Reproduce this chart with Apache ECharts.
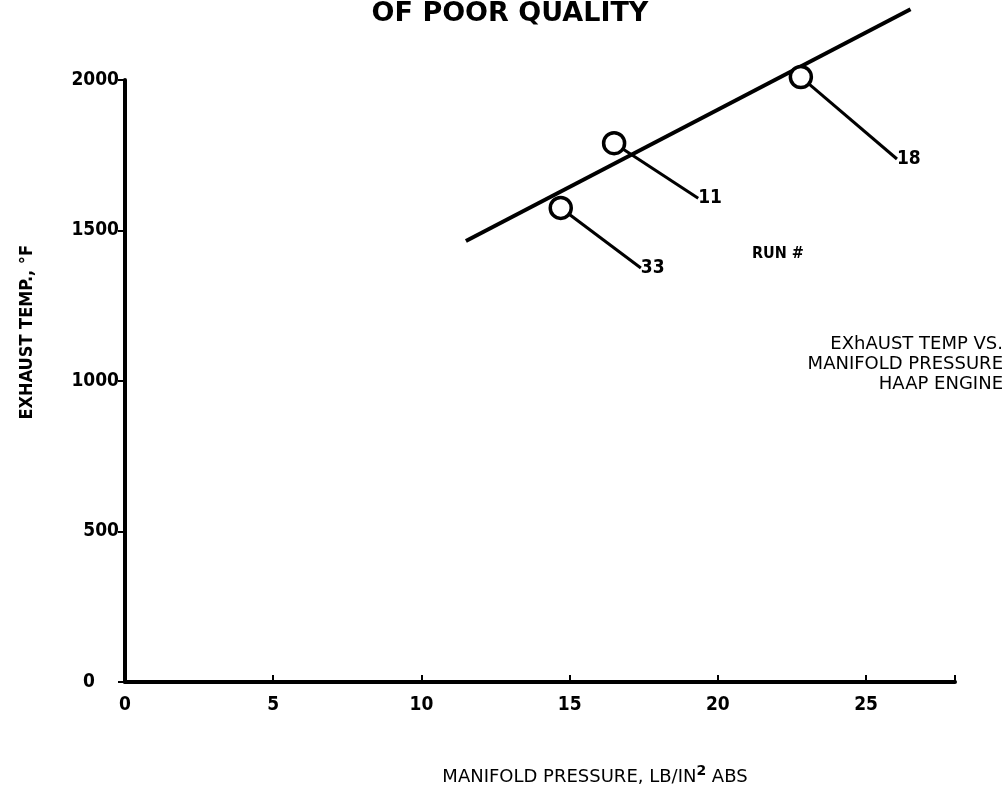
<!DOCTYPE html>
<html>
<head>
<meta charset="utf-8">
<script src="https://cdn.jsdelivr.net/npm/echarts@6/dist/echarts.min.js"></script>
<style>
  html, body { margin: 0; padding: 0; background: #fff; }
  #main { width: 1008px; height: 793px; }
</style>
</head>
<body>
<div id="main"></div>
<script>
// runs
var runs = ["33", "11", "18"];
var pressure = [14.7, 16.5, 22.8];
var exhaustTemp = [1575, 1790, 2010];

// hand-drawn fit line, two ends
var fitX = [11.5, 26.5];
var fitY = [1465, 2235];

var xTicks = [0, 5, 10, 15, 20, 25];
var yTicks = [0, 500, 1000, 1500, 2000];

var font = "'DejaVu Sans Condensed', 'DejaVu Sans', sans-serif";
var wide = "'DejaVu Sans', sans-serif";

var dom = document.getElementById("main");
var myChart = echarts.init(dom, null, { renderer: "canvas" });

// label offsets for the leader lines (px)
var leaderOffsets = [
  { dx: 92, dy: 60 },
  { dx: 96, dy: 55 },
  { dx: 108, dy: 82 }
];

var option = {
  animation: false,
  backgroundColor: "#fff",
  title: {
    text: "OF POOR QUALITY",
    left: 505,
    top: -5,
    textAlign: "center",
    textStyle: { fontFamily: wide, fontWeight: "bold", fontSize: 27, color: "#000" }
  },
  grid: { left: 125, right: 53, top: 80, bottom: 111 },
  xAxis: {
    type: "value",
    min: 0,
    max: 28,
    interval: 5,
    splitLine: { show: false },
    axisLine: { lineStyle: { color: "#000", width: 4 } },
    axisTick: { inside: true, length: 7, lineStyle: { color: "#000", width: 2 } },
    axisLabel: {
      margin: 14,
      fontFamily: font,
      fontWeight: "bold",
      fontSize: 19,
      color: "#000",
      formatter: function (v) { return xTicks.indexOf(v) >= 0 ? String(v) : ""; }
    },
    name: "{a|MANIFOLD PRESSURE, LB/IN}{s|2}{a| ABS}",
    nameLocation: "middle",
    nameGap: 82,
    nameTextStyle: {
      padding: [0, 0, 0, 110],
      rich: {
        a: { fontFamily: wide, fontSize: 18, lineHeight: 26, color: "#000" },
        s: { fontFamily: wide, fontSize: 14, fontWeight: "bold", lineHeight: 12, color: "#000", verticalAlign: "top" }
      }
    }
  },
  yAxis: {
    type: "value",
    min: 0,
    max: 2000,
    interval: 500,
    splitLine: { show: false },
    axisLine: { show: true, lineStyle: { color: "#000", width: 4 } },
    axisTick: { show: true, length: 7, lineStyle: { color: "#000", width: 2 } },
    axisLabel: {
      margin: 6,
      fontFamily: font,
      fontWeight: "bold",
      fontSize: 19,
      color: "#000",
      formatter: function (v) {
        if (yTicks.indexOf(v) < 0) return "";
        return v === 0 ? "{z|0}" : String(v);
      },
      rich: {
        z: { fontFamily: font, fontWeight: "bold", fontSize: 19, color: "#000", padding: [0, 24, 0, 0] }
      }
    }
  },
  graphic: [
    {
      type: "text",
      left: 18,
      top: 245,
      rotation: Math.PI / 2,
      style: {
        text: "EXHAUST TEMP., \u00b0F",
        fontFamily: font,
        fontWeight: "bold",
        fontSize: 18,
        fill: "#000"
      }
    },
    {
      type: "text",
      x: 752,
      y: 246,
      style: { text: "RUN #", fontFamily: font, fontWeight: "bold", fontSize: 16, fill: "#000" }
    },
    {
      type: "text",
      x: 1003,
      y: 334,
      style: {
        text: "EXhAUST TEMP VS.\nMANIFOLD PRESSURE\nHAAP ENGINE",
        align: "right",
        fontFamily: wide,
        fontSize: 18,
        lineHeight: 20,
        fill: "#000"
      }
    }
  ],
  series: [
    {
      type: "line",
      data: fitX.map(function (x, i) { return [x, fitY[i]]; }),
      showSymbol: false,
      clip: false,
      lineStyle: { color: "#000", width: 4 },
      z: 2
    },
    {
      type: "scatter",
      data: pressure.map(function (x, i) { return [x, exhaustTemp[i], runs[i]]; }),
      symbol: "circle",
      symbolSize: 21,
      clip: false,
      itemStyle: { color: "#fff", borderColor: "#000", borderWidth: 3.5, opacity: 1 },
      label: {
        show: true,
        position: "inside",
        formatter: function (p) { return p.value[2]; },
        fontFamily: font,
        fontWeight: "bold",
        fontSize: 19,
        color: "#000"
      },
      labelLine: { show: true, lineStyle: { color: "#000", width: 3, opacity: 1 } },
      labelLayout: function (p) {
        return { dx: leaderOffsets[p.dataIndex].dx, dy: leaderOffsets[p.dataIndex].dy };
      },
      emphasis: { disabled: true },
      z: 3
    }
  ]
};

myChart.setOption(option);
window.addEventListener("resize", myChart.resize);
</script>
</body>
</html>
